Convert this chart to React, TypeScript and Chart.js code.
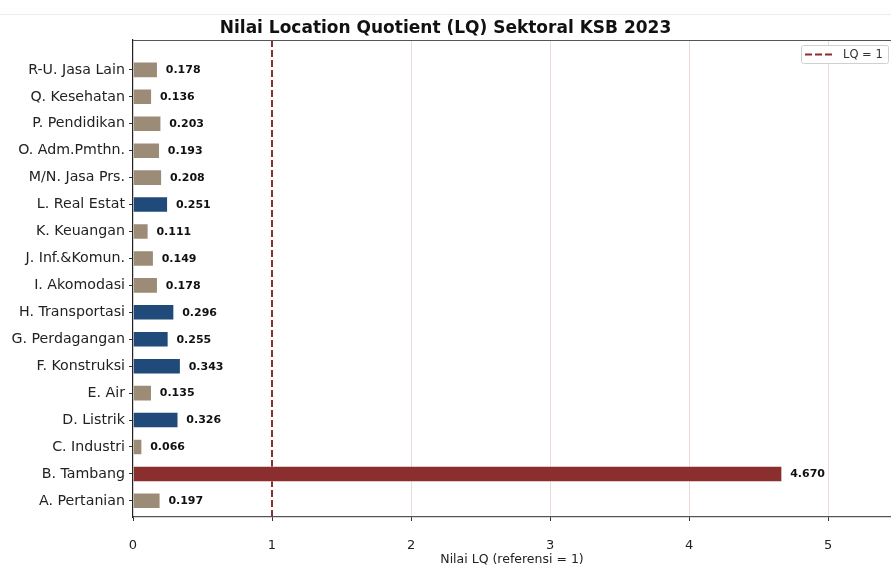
import React, { useEffect, useRef } from "react";
import { Chart, registerables } from "chart.js";

Chart.register(...registerables);

// Bottom to top (index 0 = A. Pertanian)
const categories = [
  "A. Pertanian",
  "B. Tambang",
  "C. Industri",
  "D. Listrik",
  "E. Air",
  "F. Konstruksi",
  "G. Perdagangan",
  "H. Transportasi",
  "I. Akomodasi",
  "J. Inf.&Komun.",
  "K. Keuangan",
  "L. Real Estat",
  "M/N. Jasa Prs.",
  "O. Adm.Pmthn.",
  "P. Pendidikan",
  "Q. Kesehatan",
  "R-U. Jasa Lain",
];
const lqValues = [
  0.197, 4.67, 0.066, 0.326, 0.135, 0.343, 0.255, 0.296, 0.178, 0.149, 0.111,
  0.251, 0.208, 0.193, 0.203, 0.136, 0.178,
];
const xTicks = [0, 1, 2, 3, 4, 5];
const referenceValue = 1;

const FONT = "'DejaVu Sans', sans-serif";

function colorFor(v: number) {
  if (v > 1) return "#8b2e2e";
  if (v >= 0.25) return "#1f4a7a";
  return "#9c8b77";
}

const decorPlugin = {
  id: "decor",
  beforeDatasetsDraw(chart: any) {
    const { ctx, chartArea, scales } = chart;
    const x = scales.x.getPixelForValue(referenceValue);
    ctx.save();
    ctx.strokeStyle = "#8b2e2e";
    ctx.lineWidth = 2;
    ctx.setLineDash([7, 3]);
    ctx.beginPath();
    ctx.moveTo(x, chartArea.top);
    ctx.lineTo(x, chartArea.bottom);
    ctx.stroke();
    ctx.restore();
  },
  afterDatasetsDraw(chart: any) {
    const { ctx } = chart;
    const meta = chart.getDatasetMeta(0);
    ctx.save();
    ctx.font = `bold 11px ${FONT}`;
    ctx.fillStyle = "#111";
    ctx.textAlign = "left";
    ctx.textBaseline = "middle";
    meta.data.forEach((bar: any, i: number) => {
      ctx.fillText(lqValues[i].toFixed(3), bar.x + 8, bar.y + 0.5);
    });
    ctx.restore();
  },
  afterDraw(chart: any) {
    const { ctx, chartArea } = chart;
    ctx.save();
    // faint page line
    ctx.strokeStyle = "#f2ebe5";
    ctx.lineWidth = 1;
    ctx.beginPath();
    ctx.moveTo(0, 14.5);
    ctx.lineTo(chart.width, 14.5);
    ctx.stroke();
    // top spine
    ctx.strokeStyle = "#555";
    ctx.lineWidth = 1.2;
    ctx.beginPath();
    ctx.moveTo(chartArea.left, chartArea.top + 0.5);
    ctx.lineTo(chartArea.right, chartArea.top + 0.5);
    ctx.stroke();
    // legend
    const bx = chartArea.right - 90;
    const by = chartArea.top + 5;
    const bw = 87;
    const bh = 18;
    ctx.fillStyle = "rgba(255,255,255,0.9)";
    ctx.strokeStyle = "#d0d0d0";
    ctx.lineWidth = 1;
    ctx.beginPath();
    (ctx as any).roundRect(bx + 0.5, by + 0.5, bw, bh, 2);
    ctx.fill();
    ctx.stroke();
    ctx.strokeStyle = "#8b2e2e";
    ctx.lineWidth = 2;
    ctx.setLineDash([7, 3]);
    ctx.beginPath();
    ctx.moveTo(bx + 4, by + 9.5);
    ctx.lineTo(bx + 31, by + 9.5);
    ctx.stroke();
    ctx.setLineDash([]);
    ctx.fillStyle = "#333";
    ctx.font = `11.5px ${FONT}`;
    ctx.textAlign = "left";
    ctx.textBaseline = "middle";
    ctx.fillText("LQ = 1", bx + 42, by + 10);
    ctx.restore();
  },
};

export default function App() {
  const ref = useRef<HTMLCanvasElement | null>(null);

  useEffect(() => {
    if (!ref.current) return;
    const chart = new Chart(ref.current, {
      type: "bar",
      data: {
        datasets: [
          {
            label: "LQ",
            data: lqValues.map((v, i) => ({ x: v, y: i })),
            backgroundColor: lqValues.map(colorFor),
            borderColor: "rgba(255,255,255,0.5)",
            borderWidth: 0.8,
            barPercentage: 0.6,
            categoryPercentage: 1,
          },
        ],
      },
      options: {
        indexAxis: "y",
        responsive: false,
        animation: false,
        layout: { padding: 0 },
        plugins: {
          legend: { display: false },
          tooltip: { enabled: false },
          title: {
            display: true,
            text: "Nilai Location Quotient (LQ) Sektoral KSB 2023",
            color: "#111",
            font: { family: FONT, size: 17, weight: "bold" },
            padding: { top: 18, bottom: 1.6 },
          },
        },
        scales: {
          x: {
            type: "linear",
            min: 0,
            max: 5.453,
            z: 1,
            afterBuildTicks: (scale: any) => {
              scale.ticks = xTicks.map((v) => ({ value: v }));
            },
            afterFit: (scale: any) => {
              scale.height = 50;
            },
            ticks: {
              color: "#222",
              font: { family: FONT, size: 13 },
              padding: 17,
              callback: (v: any) => String(v),
            },
            grid: {
              color: (c: any) =>
                c.tick && (c.tick.value === 0 || c.tick.value === referenceValue)
                  ? "rgba(0,0,0,0)"
                  : "#eadcd4",
              lineWidth: 1,
              tickLength: 4,
              tickColor: "#333",
            },
            border: { color: "#555", width: 1.2 },
            title: {
              display: true,
              text: "Nilai LQ (referensi = 1)",
              color: "#222",
              font: { family: FONT, size: 12.5 },
              padding: { top: 0, bottom: 0 },
            },
          },
          y: {
            type: "linear",
            min: -0.6,
            max: 17.11,
            offset: false,
            afterBuildTicks: (scale: any) => {
              scale.ticks = categories.map((_, i) => ({ value: i }));
            },
            afterFit: (scale: any) => {
              scale.width = 133;
            },
            ticks: {
              color: "#222",
              font: { family: FONT, size: 14.2 },
              padding: 4,
              callback: (v: any) => categories[v] ?? "",
            },
            grid: {
              offset: false,
              drawOnChartArea: false,
              tickLength: 4,
              tickColor: "#333",
            },
            border: { color: "#222", width: 1.2 },
          },
        },
      } as any,
      plugins: [decorPlugin],
    });
    return () => chart.destroy();
  }, []);

  return (
    <div
      style={{
        position: "fixed",
        left: 0,
        top: 0,
        width: 891,
        height: 567,
        background: "#fff",
      }}
    >
      <canvas ref={ref} width={891} height={567} />
    </div>
  );
}
